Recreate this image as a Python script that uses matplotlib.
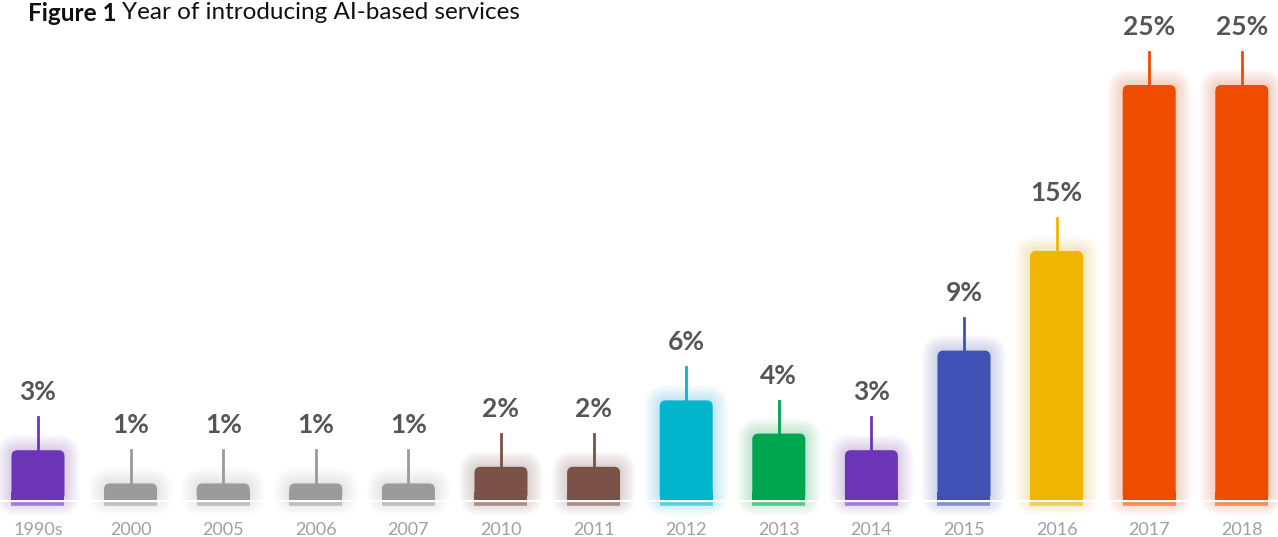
import matplotlib
matplotlib.use("Agg")
import matplotlib.pyplot as plt
from matplotlib.patches import FancyBboxPatch
import matplotlib.colors as mcolors

years = ["1990s", "2000", "2005", "2006", "2007", "2010", "2011",
         "2012", "2013", "2014", "2015", "2016", "2017", "2018"]
shares = [3, 1, 1, 1, 1, 2, 2, 6, 4, 3, 9, 15, 25, 25]
colors = ["#6c35b8", "#9b9b9b", "#9b9b9b", "#9b9b9b", "#9b9b9b", "#7a5247", "#7a5247",
          "#00b5cc", "#00a54f", "#6c35b8", "#3f51b5", "#efb500", "#f04c00", "#f04c00"]

W, H = 1278, 537
fig = plt.figure(figsize=(W / 100, H / 100), dpi=100)
ax = fig.add_axes([0, 0, 1, 1])
ax.axis("off")

px_x = 92.6      # pixels per category
px_y = 16.6      # pixels per percent
x0, y0 = 38, 500  # pixel of first bar centre / baseline
ax.set_xlim(-x0 / px_x, (W - x0) / px_x)
ax.set_ylim(-(H - y0) / px_y, y0 / px_y)

bw = 53 / px_x
aspect = px_x / px_y
rad = 6 / px_x
stick = 33 / px_y

for i, (v, c) in enumerate(zip(shares, colors)):
    # soft glow
    for k in range(1, 13):
        pad = k * 1.3 / px_x
        g = FancyBboxPatch((i - bw / 2, 0), bw, v,
                           boxstyle=f"round,pad={pad},rounding_size={rad + pad}",
                           mutation_aspect=aspect, fc=c, ec="none",
                           alpha=0.018, zorder=1)
        ax.add_patch(g)
    bar = FancyBboxPatch((i - bw / 2, 0), bw, v,
                         boxstyle=f"round,pad=0,rounding_size={rad}",
                         mutation_aspect=aspect, fc=c, ec="none", zorder=3)
    ax.add_patch(bar)
    # square off the bottom corners
    ax.bar(i, 8 / px_y, width=bw, bottom=0, color=c, lw=0, zorder=3)
    # white gap + underline
    ax.bar(i, -2 / px_y, width=bw + 40 / px_x, bottom=0, color="white", lw=0, zorder=2)
    light = mcolors.to_rgba(c, 0.55)
    ax.plot([i - bw / 2, i + bw / 2], [-3.5 / px_y] * 2, color=light,
            lw=2.6, solid_capstyle="butt", zorder=3)
    # stick
    ax.plot([i, i], [v, v + stick], color=c, lw=2.0, zorder=3)
    ax.text(i, v + stick + 13 / px_y, f"{v}%", ha="center", va="bottom",
            fontsize=19, fontweight="bold", family="Lato", color="#555555", zorder=4)
    ax.text(i, -30 / px_y, years[i], ha="center", va="center",
            fontsize=13, family="Lato", color="#a0a0a0", zorder=4)

t1 = fig.text(28 / W, 1 - 2 / H, "Figure 1 ", ha="left", va="top",
              fontsize=17.5, fontweight="bold", family="Lato", color="#111111")
fig.canvas.draw()
bb = t1.get_window_extent()
fig.text(bb.x1 / W, 1 - 2 / H, "Year of introducing AI-based services", ha="left",
         va="top", fontsize=17.5, family="Lato", color="#111111")

fig.savefig("out.png", dpi=100, facecolor="white")
